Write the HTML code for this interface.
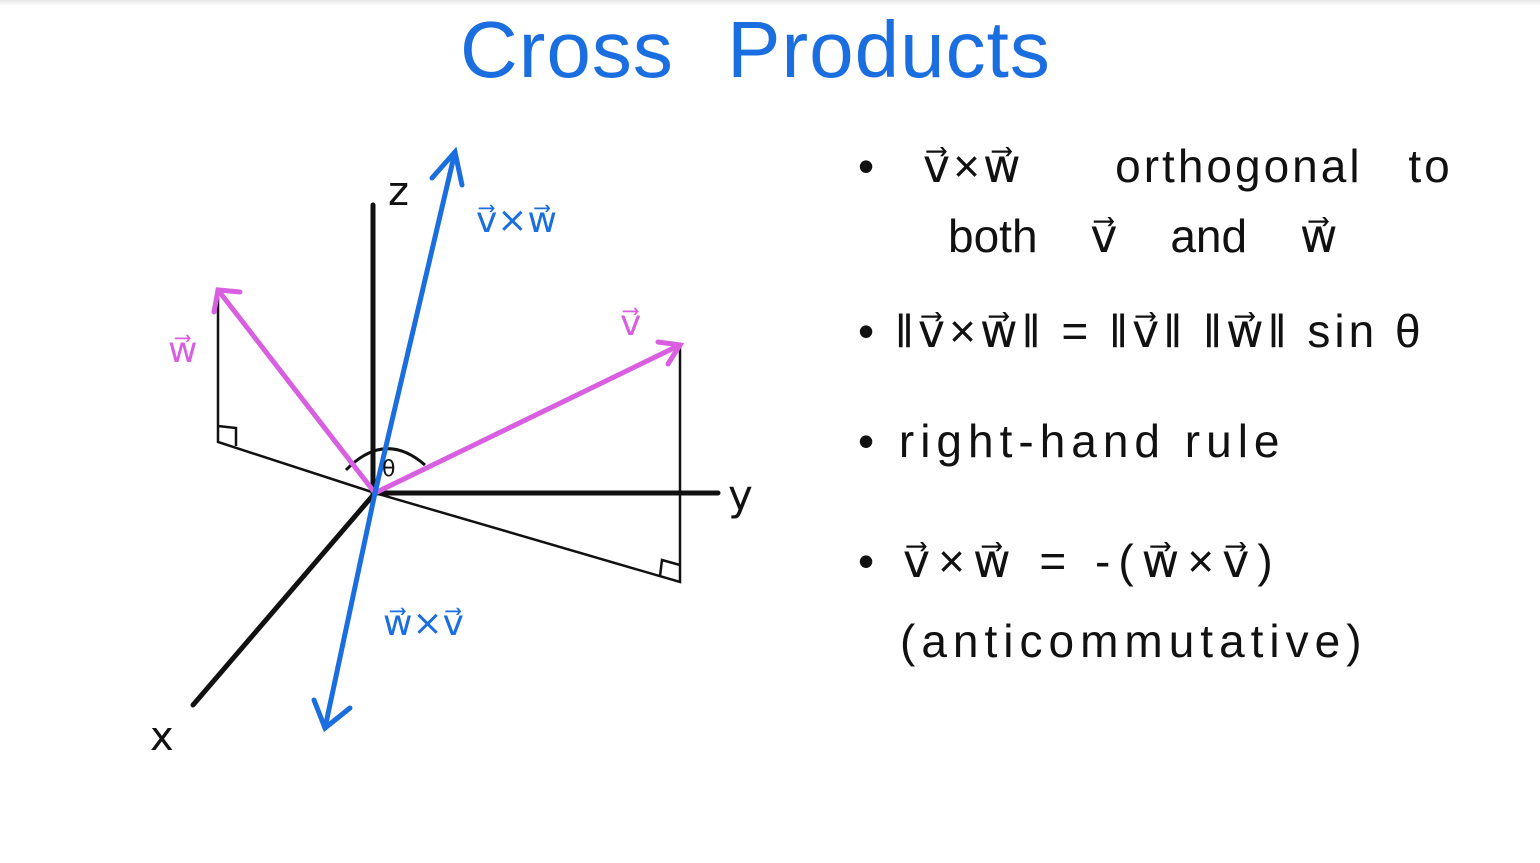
<!DOCTYPE html>
<html><head><meta charset="utf-8"><style>
html,body{margin:0;padding:0;background:#fff;}
body{width:1540px;height:863px;overflow:hidden;position:relative;font-family:"Liberation Sans","DejaVu Sans",sans-serif;}
.t{position:absolute;white-space:nowrap;color:#111;font-size:46px;line-height:1;}
</style></head><body>
<div style="position:absolute;left:0;top:0;width:1540px;height:6px;background:linear-gradient(#e8e8e8,#fff)"></div>
<div class="t" style="left:460px;top:10px;font-size:80px;color:#1a6ee0;letter-spacing:1px;word-spacing:30px">Cross Products</div>
<svg width="1540" height="863" style="position:absolute;left:0;top:0" font-family="DejaVu Sans, sans-serif">
<g stroke="#111" stroke-width="5" fill="none" stroke-linecap="round">
<line x1="373" y1="493" x2="373" y2="205"/>
<line x1="375" y1="493" x2="718" y2="493"/>
<line x1="375" y1="493" x2="193" y2="705"/>
</g>
<g stroke="#111" stroke-width="2.5" fill="none">
<polyline points="218,290 218,442 375,493"/>
<polyline points="218,426 236,428 236,446"/>
<polyline points="680,345 680,582 375,493"/>
<polyline points="660,576 662,560 680,565"/>
<path d="M346,470 Q385,430 425,465" stroke-width="3"/>
</g>
<g stroke="#d860e0" stroke-width="5" fill="none" stroke-linecap="round">
<line x1="375" y1="493" x2="218" y2="290"/>
<polyline points="214,312 218,290 240,292"/>
<line x1="375" y1="493" x2="680" y2="345"/>
<polyline points="658,342 680,345 668,364"/>
</g>
<g stroke="#1a6ee0" stroke-width="5" fill="none" stroke-linecap="round">
<line x1="375" y1="493" x2="455" y2="152"/>
<polyline points="432,178 455,152 462,185"/>
<line x1="375" y1="493" x2="325" y2="728"/>
<polyline points="314,700 325,728 350,708"/>
</g>
<text x="388" y="205" font-size="40" fill="#111">z</text>
<text x="728" y="510" font-size="42" fill="#111">y</text>
<text x="150" y="750" font-size="40" fill="#111">x</text>
<text x="382" y="476" font-size="22" fill="#111">θ</text>
<text x="168" y="362" font-size="36" fill="#d860e0">w⃗</text>
<text x="620" y="335" font-size="36" fill="#d860e0">v⃗</text>
<text x="476" y="232" font-size="36" fill="#1a6ee0">v⃗×w⃗</text>
<text x="383" y="635" font-size="36" fill="#1a6ee0">w⃗×v⃗</text>
</svg>
<div class="t" style="left:858px;top:143px;word-spacing:30px;letter-spacing:3px">• v⃗×w⃗&nbsp;&nbsp;orthogonal&nbsp;to</div>
<div class="t" style="left:948px;top:213px;word-spacing:40px">both v⃗ and w⃗</div>
<div class="t" style="left:858px;top:308px;letter-spacing:4px">• ‖v⃗×w⃗‖ = ‖v⃗‖ ‖w⃗‖ sin θ</div>
<div class="t" style="left:858px;top:418px;letter-spacing:6px">• right-hand rule</div>
<div class="t" style="left:858px;top:538px;letter-spacing:8px">• v⃗×w⃗ = -(w⃗×v⃗)</div>
<div class="t" style="left:900px;top:618px;letter-spacing:6px">(anticommutative)</div>
</body></html>
